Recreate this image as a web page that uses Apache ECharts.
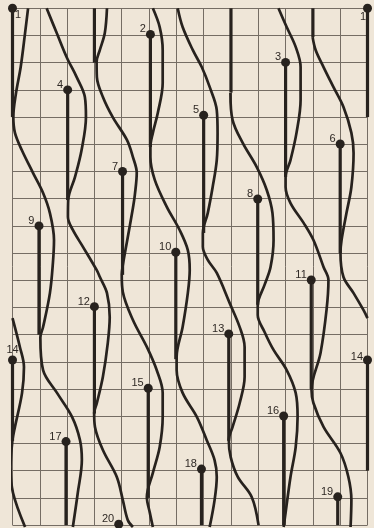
<!DOCTYPE html>
<html>
<head>
<meta charset="utf-8">
<title>leaf traces</title>
<script src="https://cdn.jsdelivr.net/npm/echarts@6.0.0/dist/echarts.min.js"></script>
<style>
  html, body { margin: 0; padding: 0; background: #efe6d8; }
  #main { width: 374px; height: 528px; }
</style>
</head>
<body>
<div id="main"></div>
<script>
// leaves: label, column, row of the dot, row where the trace joins a strand
var leafLabels = ['1', '2', '3', '4', '5', '6', '7', '8', '9', '10', '11', '12', '13', '14', '15', '16', '17', '18', '19', '20', '1', '14']
var leafCol = [0, 5.05, 10, 2.02, 7, 12, 4.03, 8.98, 0.97, 5.98, 10.94, 3, 7.92, 0, 4.97, 9.93, 1.96, 6.92, 11.91, 3.89, 13, 13]
var leafRow = [0, 0.96, 1.99, 3, 3.93, 4.99, 6, 7.01, 8, 8.97, 9.99, 10.97, 11.97, 12.93, 13.97, 14.99, 15.93, 16.94, 17.96, 18.97, 0, 12.93]
var traceEnd = [4, 5.1, 6.2, 7.05, 8.26, 9, 9.8, 10.9, 12, 12.9, 14, 14.9, 15.9, 15.9, 18, 19, 19, 19, 19, 18.97, 4, 17]

// traces of leaves above the picture (no dot)
var stubCol = [3, 8, 11]
var stubEnd = [2, 3.1, 1.06]

// wavy strands [column, row]
var strandA = [[0.57, 0], [0.46, 0.91], [0.3, 2.16], [0.13, 3.11], [0.03, 4], [0.09, 4.58], [0.34, 5.21], [0.75, 6.05], [1.12, 6.79], [1.37, 7.53], [1.52, 8.52], [1.48, 9.36], [1.37, 10.47], [1.12, 11.72], [1.02, 12.1], [1.12, 13.3], [1.63, 14.14], [2.18, 15.02], [2.47, 15.87], [2.54, 16.6], [2.39, 17.82], [2.21, 19.07]]
var strandB = [[5.14, 0], [5.39, 0.69], [5.5, 1.53], [5.5, 2.75], [5.32, 3.85], [5.14, 4.58], [5.05, 5.1], [5.05, 5.47], [5.21, 6.31], [5.65, 7.3], [6.12, 8.15], [6.42, 8.89], [6.49, 9.62], [6.42, 10.47], [6.23, 11.72], [6.01, 12.82], [6.01, 13.3], [6.23, 14.14], [6.75, 15.02], [7.11, 15.87], [7.4, 16.61], [7.48, 17.23], [7.4, 18.08], [7.22, 19.07]]
var strandC = [[9.74, 0], [10.04, 0.69], [10.37, 1.42], [10.55, 2.16], [10.55, 3.37], [10.4, 4.58], [10.18, 5.58], [10, 6.2], [10, 6.57], [10.18, 7.16], [10.66, 7.89], [11.02, 8.52], [11.39, 9.51], [11.57, 9.99], [11.5, 11.09], [11.28, 12.67], [10.95, 14.03], [11.02, 14.51], [11.39, 15.39], [12.01, 16.35], [12.3, 17.23], [12.41, 18.08], [12.38, 19.07]]
var strandD = [[1.25, 0], [1.62, 0.91], [1.98, 1.79], [2.35, 2.53], [2.65, 3.26], [2.69, 4], [2.53, 5.21], [2.29, 6.2], [2.04, 7.05], [2.03, 7.67], [2.21, 8.15], [2.58, 8.77], [3.08, 9.62], [3.2, 9.88], [3.46, 10.47], [3.56, 11.35], [3.49, 12.3], [3.31, 13.55], [3.09, 14.51], [2.99, 14.88], [3.02, 15.39], [3.31, 16.24], [3.82, 17.23], [4.04, 18.08], [4.22, 18.81], [4.41, 19.07]]
var strandE = [[6.05, 0], [6.23, 0.69], [6.6, 1.53], [6.93, 2.16], [7.22, 2.89], [7.48, 3.74], [7.51, 4.58], [7.48, 5.58], [7.33, 6.57], [7.15, 7.53], [6.97, 8.26], [6.97, 8.77], [7.15, 9.25], [7.48, 9.73], [7.95, 10.83], [8.32, 11.72], [8.5, 12.45], [8.5, 13.55], [8.32, 14.51], [8.06, 15.39], [7.92, 15.87], [7.99, 16.5], [8.25, 17.23], [8.76, 17.97], [9.01, 19]]
var strandF = [[10.99, 1.06], [11.1, 1.53], [11.39, 2.16], [11.75, 2.89], [12.12, 3.63], [12.41, 4.58], [12.49, 5.32], [12.41, 6.57], [12.23, 7.53], [12.05, 8.52], [12.01, 9], [12.12, 9.88], [12.49, 10.47], [12.85, 11.09], [13, 11.39]]
var strandF2 = [[0, 11.39], [0.27, 12.45], [0.42, 13.19], [0.35, 14.14], [0.09, 15.39], [0, 15.87], [-0.07, 16.86], [0.02, 17.82], [0.46, 19.07]]
var strandG = [[3.46, 0], [3.38, 0.91], [3.2, 1.53], [3.08, 1.97], [3.09, 2.53], [3.31, 3.26], [3.67, 4], [4.19, 4.84], [4.41, 5.47], [4.55, 6.05], [4.48, 6.86], [4.41, 7.34], [4.19, 8.59], [4.04, 9.44], [4, 9.8], [4.04, 10.43], [4.41, 11.46], [4.92, 12.45], [5.28, 13.3], [5.5, 14.14], [5.5, 15.02], [5.39, 16.13], [5.14, 17.08], [4.92, 17.97], [5.03, 18.55], [5.14, 19.07]]
var strandH = [[7.98, 3.11], [8.06, 4.11], [8.43, 4.95], [8.94, 5.83], [9.31, 6.68], [9.52, 7.53], [9.56, 8.52], [9.45, 9.51], [9.23, 10.17], [8.98, 10.91], [8.98, 11.28], [9.23, 11.9], [9.56, 12.56], [10.04, 13.3], [10.37, 14.14], [10.44, 15.02], [10.37, 16.13], [10.18, 17.23], [10, 18.55], [9.93, 19.07]]

var ink = '#27221e'
var myChart = echarts.init(document.getElementById('main'))

var series = []

// strands
;[strandA, strandB, strandC, strandD, strandE, strandF, strandF2, strandG, strandH].forEach(function (d) {
  series.push({
    type: 'line',
    data: d,
    smooth: 0.35,
    showSymbol: false,
    clip: false,
    silent: true,
    lineStyle: { color: ink, width: 2.7 },
  })
})

// straight leaf traces
leafCol.forEach(function (c, i) {
  series.push({
    type: 'line',
    data: [[c, leafRow[i]], [c, traceEnd[i]]],
    showSymbol: false,
    clip: false,
    silent: true,
    lineStyle: { color: ink, width: 3.2 },
  })
})
stubCol.forEach(function (c, i) {
  series.push({
    type: 'line',
    data: [[c, 0], [c, stubEnd[i]]],
    showSymbol: false,
    clip: false,
    silent: true,
    lineStyle: { color: ink, width: 3.2 },
  })
})

// label placement, default is up-left of the dot
var labelPlace = {
  0: { position: 'right', distance: 0, offset: [-2, 7] },
  20: { position: 'left', distance: 0, offset: [3, 9] },
  13: { position: 'top', distance: 0, offset: [0, 0] },
  21: { position: 'left', distance: 0, offset: [0, -3] },
}

series.push({
  type: 'scatter',
  symbolSize: 9,
  clip: false,
  silent: true,
  z: 5,
  itemStyle: { color: ink, opacity: 1 },
  data: leafCol.map(function (c, i) {
    var lp = labelPlace[i] || { position: 'left', distance: 0, offset: [0, -5] }
    return {
      value: [c, leafRow[i]],
      label: {
        show: true,
        formatter: leafLabels[i],
        position: lp.position,
        distance: lp.distance,
        offset: lp.offset,
        color: '#2f2925',
        fontSize: 11,
        fontFamily: 'Liberation Sans',
      },
    }
  }),
})

var gridLine = { show: true, lineStyle: { color: '#756d64', width: 1 } }

var option = {
  backgroundColor: '#efe6d8',
  animation: false,
  grid: { left: 12.5, right: 6.5, top: 8.3, bottom: 2.9 },
  xAxis: {
    type: 'value',
    min: 0,
    max: 13,
    interval: 1,
    axisLine: { show: false },
    axisTick: { show: false },
    axisLabel: { show: false },
    splitLine: gridLine,
  },
  yAxis: {
    type: 'value',
    min: 0,
    max: 19,
    interval: 1,
    inverse: true,
    axisLine: { show: false },
    axisTick: { show: false },
    axisLabel: { show: false },
    splitLine: gridLine,
  },
  series: series,
}

myChart.setOption(option)
</script>
</body>
</html>
